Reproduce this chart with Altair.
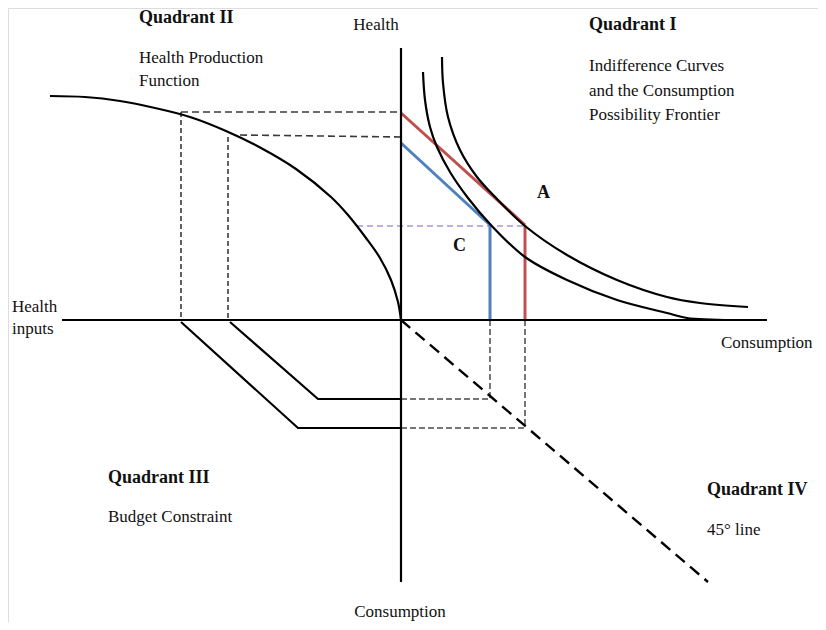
import altair as alt
import pandas as pd

# ---------------- data (diagram units, origin at the axes crossing) ----------------
# Quadrant II: health production function
hpf_x = [-351, -316, -281, -246, -211, -175, -140, -105, -70, -53, -35, -21, -10, -3, 0]
hpf_y = [224, 223, 219, 212, 203, 189, 172, 151, 123, 105, 82, 62, 40, 18, 0]

# Quadrant I: indifference curves
ic_outer_x = [41, 42, 47, 59, 76, 96, 124, 166, 216, 266, 299, 347]
ic_outer_y = [263, 237, 203, 170, 143, 121, 94, 65, 40, 23, 17, 13]
ic_inner_x = [22, 24, 29, 36, 49, 67, 89, 124, 166, 216, 266, 286, 332]
ic_inner_y = [248, 220, 193, 173, 148, 122, 96, 63, 40, 20, 7, 2, 0]

# Quadrant I: consumption possibility frontiers (red = A, blue = C)
cpf_red_x = [0, 124]
cpf_red_y = [207, 95]
cpf_blue_x = [0, 89]
cpf_blue_y = [177, 95]

# Quadrant III: budget constraints
bc_outer_x = [-220, -103, 0]
bc_outer_y = [-2, -108, -108]
bc_inner_x = [-171, -83, 0]
bc_inner_y = [-2, -79, -79]

# Quadrant IV: 45 degree line
l45_x = [0, 307]
l45_y = [0, -262]

# axes
axis_v_x = [0, 0]
axis_v_y = [272, -262]
axis_h_x = [-339, 366]
axis_h_y = [0, 0]

# guide segments (x1, y1, x2, y2)
guides_q2_h = [(-220, 208, 0, 208), (-161, 185, 0, 183)]
guides_q2_v = [(-220, 208, -220, 0), (-173, 183, -173, 0)]
guides_q4 = [(0, -79, 89, -79), (89, 0, 89, -79), (0, -108, 124, -108), (124, 0, 124, -108)]
guides_purple = [(-44, 94, 124, 94)]
drop_red = [(124, 95, 124, 0)]
drop_blue = [(89, 95, 89, 0)]

# labels: text, x, y, bold, align
labels = [
    ("Quadrant II", -262, 297, True, "left"),
    ("Health Production", -262, 257, False, "left"),
    ("Function", -262, 234, False, "left"),
    ("Health", -25, 290, False, "center"),
    ("Quadrant I", 188, 290, True, "left"),
    ("Indifference Curves", 188, 249, False, "left"),
    ("and the Consumption", 188, 224, False, "left"),
    ("Possibility Frontier", 188, 200, False, "left"),
    ("A", 136, 122, True, "left"),
    ("C", 52, 69, True, "left"),
    ("Health", -389, 8, False, "left"),
    ("inputs", -389, -14, False, "left"),
    ("Consumption", 320, -28, False, "left"),
    ("Quadrant III", -293, -163, True, "left"),
    ("Budget Constraint", -293, -202, False, "left"),
    ("Quadrant IV", 306, -175, True, "left"),
    ("45° line", 306, -215, False, "left"),
    ("Consumption", -1, -297, False, "center"),
]

# ---------------- build tables ----------------
def polyline(name, xs, ys):
    return pd.DataFrame({"seg": name, "i": range(len(xs)), "x": xs, "y": ys})


def segments(name, segs):
    rows = []
    for k, (x1, y1, x2, y2) in enumerate(segs):
        rows.append({"seg": f"{name}{k}", "i": 0, "x": x1, "y": y1})
        rows.append({"seg": f"{name}{k}", "i": 1, "x": x2, "y": y2})
    return pd.DataFrame(rows)


X = alt.X("x:Q", scale=alt.Scale(domain=[-393, 417]), axis=None)
Y = alt.Y("y:Q", scale=alt.Scale(domain=[-302, 312]), axis=None)


def lines(df, color, width, dash=None, interp="linear"):
    kw = dict(color=color, strokeWidth=width, interpolate=interp, clip=False)
    if dash:
        kw["strokeDash"] = dash
        kw["strokeCap"] = "butt"
    return alt.Chart(df).mark_line(**kw).encode(x=X, y=Y, detail="seg:N", order="i:Q")


black_solid = pd.concat([
    polyline("axv", axis_v_x, axis_v_y),
    polyline("axh", axis_h_x, axis_h_y),
    polyline("bco", bc_outer_x, bc_outer_y),
    polyline("bci", bc_inner_x, bc_inner_y),
])
curves = pd.concat([
    polyline("hpf", hpf_x, hpf_y),
    polyline("ico", ic_outer_x, ic_outer_y),
    polyline("ici", ic_inner_x, ic_inner_y),
])
red = pd.concat([polyline("red", cpf_red_x, cpf_red_y), segments("rd", drop_red)])
blue = pd.concat([polyline("blue", cpf_blue_x, cpf_blue_y), segments("bd", drop_blue)])

layers = [
    lines(segments("q2h", guides_q2_h), "#3a3a3a", 1.6, [7, 4]),
    lines(segments("q2v", guides_q2_v), "#3a3a3a", 1.6, [5, 3]),
    lines(segments("q4", guides_q4), "#4a4a4a", 1.5, [6, 3]),
    lines(segments("pu", guides_purple), "#a897cf", 1.5, [6, 4]),
    lines(polyline("l45", l45_x, l45_y), "#000000", 2.4, [12, 7]),
    lines(red, "#c0504d", 3),
    lines(blue, "#4f81bd", 3),
    lines(curves, "#000000", 2.2, interp="catmull-rom"),
    lines(black_solid, "#000000", 2.2),
]

lab = pd.DataFrame(labels, columns=["text", "x", "y", "bold", "align"])
for bold in (True, False):
    for align in ("left", "center"):
        sub = lab[(lab["bold"] == bold) & (lab["align"] == align)]
        if len(sub) == 0:
            continue
        layers.append(
            alt.Chart(sub).mark_text(
                font="Liberation Serif",
                fontSize=18 if bold else 17,
                fontWeight="bold" if bold else "normal",
                align=align,
                baseline="alphabetic",
                color="#111111",
                clip=False,
            ).encode(x=X, y=Y, text="text:N")
        )

chart = (
    alt.layer(*layers)
    .properties(width=810, height=614, padding=0, autosize=alt.AutoSizeParams(type="none"))
    .configure_view(stroke=None)
    .configure(background="white")
)

chart.save("out.html", embed_options={"renderer": "svg", "actions": False})
